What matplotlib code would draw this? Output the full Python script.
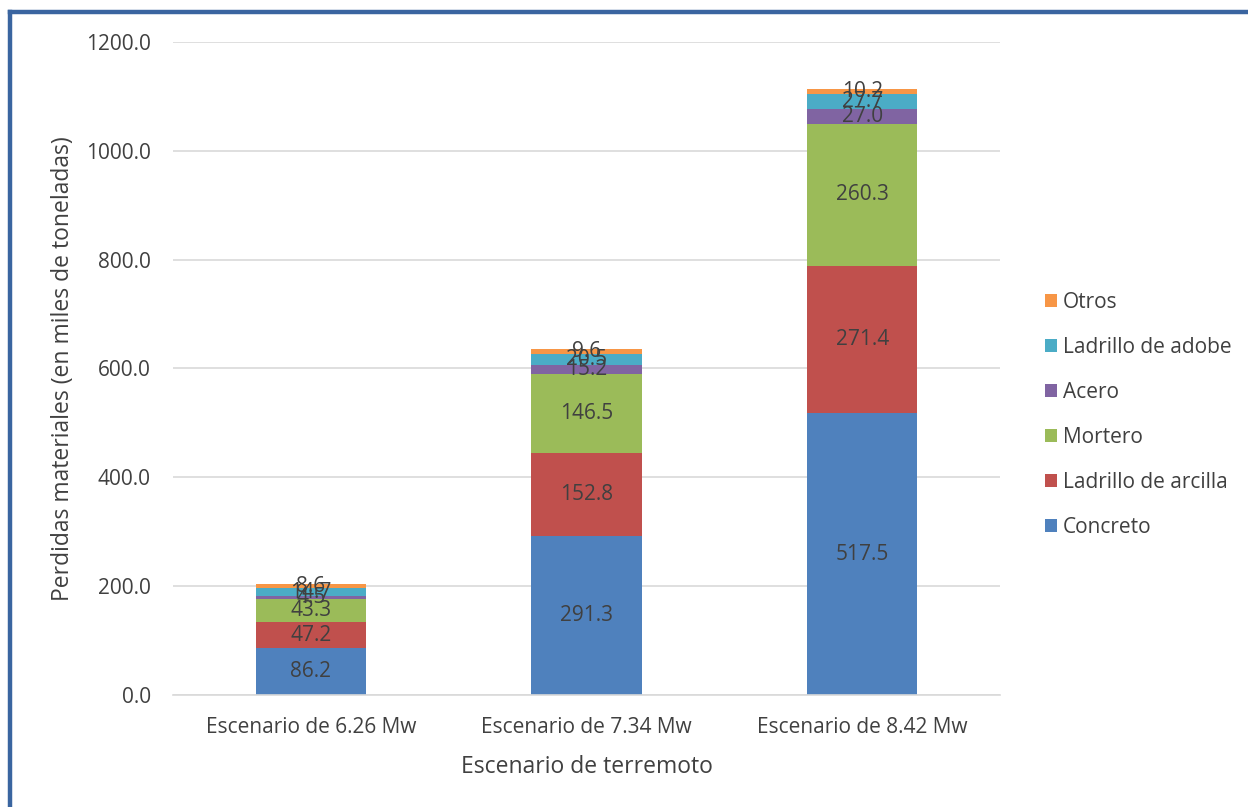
import matplotlib
matplotlib.use("Agg")
import matplotlib.pyplot as plt
from matplotlib.lines import Line2D
from matplotlib.patches import Patch
import numpy as np

plt.rcParams['font.family'] = ['Open Sans', 'DejaVu Sans']

scenarios = ["Escenario de 6.26 Mw", "Escenario de 7.34 Mw", "Escenario de 8.42 Mw"]
materials = ["Concreto", "Ladrillo de arcilla", "Mortero", "Acero", "Ladrillo de adobe", "Otros"]

concreto = [86.2, 291.3, 517.5]
ladrillo_arcilla = [47.2, 152.8, 271.4]
mortero = [43.3, 146.5, 260.3]
acero = [4.5, 15.2, 27.0]
ladrillo_adobe = [14.7, 20.5, 27.7]
otros = [8.6, 9.6, 10.2]

series = [concreto, ladrillo_arcilla, mortero, acero, ladrillo_adobe, otros]
colors = ["#4F81BD", "#C0504D", "#9BBB59", "#8064A2", "#4BACC6", "#F79646"]

text_color = "#404040"

fig = plt.figure(figsize=(12.48, 8.07), dpi=100)
ax = fig.add_axes([0.1386, 0.1388, 0.8014 - 0.1386, 0.948 - 0.1388])

x = np.arange(len(scenarios))
bottom = np.zeros(len(scenarios))
for vals, color in zip(series, colors):
    vals = np.array(vals)
    ax.bar(x, vals, 0.4, bottom=bottom, color=color, zorder=2)
    for xi, b, v in zip(x, bottom, vals):
        ax.text(xi, b + v / 2, f"{v:.1f}", ha='center', va='center',
                fontsize=15, color=text_color, zorder=3)
    bottom += vals

ax.set_xlim(-0.5, 2.5)
ax.set_ylim(0, 1200)
ax.set_yticks(np.arange(0, 1201, 200))
ax.set_yticklabels([f"{t:.1f}" for t in np.arange(0, 1201, 200)])
ax.set_xticks(x)
ax.set_xticklabels(scenarios)
ax.yaxis.grid(True, color="#D9D9D9", linewidth=1.2, zorder=0)
ax.set_axisbelow(True)
for side in ['top', 'right', 'left']:
    ax.spines[side].set_visible(False)
ax.spines['bottom'].set_color("#D9D9D9")
ax.spines['bottom'].set_linewidth(1.2)
ax.tick_params(axis='both', length=0, labelsize=15, labelcolor=text_color)
ax.tick_params(axis='y', pad=16)
ax.tick_params(axis='x', pad=16)

ax.set_xlabel("Escenario de terremoto", fontsize=16.5, color=text_color, labelpad=12)
ax.set_ylabel("Perdidas materiales (en miles de toneladas)", fontsize=16.5,
              color=text_color, labelpad=8)

handles = [Patch(facecolor=c, edgecolor='none') for c in colors][::-1]
fig.legend(handles, materials[::-1], loc='center left', bbox_to_anchor=(0.8224, 0.486),
           frameon=False, fontsize=15, labelcolor=text_color,
           handlelength=0.55, handleheight=0.55, handletextpad=0.3, labelspacing=1.15)

# frame around the chart
fig.add_artist(Line2D([0.0081, 1.0], [1 - 12 / 807, 1 - 12 / 807], color="#3A65A0",
                      linewidth=3.2, transform=fig.transFigure))
fig.add_artist(Line2D([0.0081, 0.0081], [0.0, 1 - 12 / 807], color="#3A65A0",
                      linewidth=3.2, transform=fig.transFigure))

fig.savefig("out.png", dpi=100)
